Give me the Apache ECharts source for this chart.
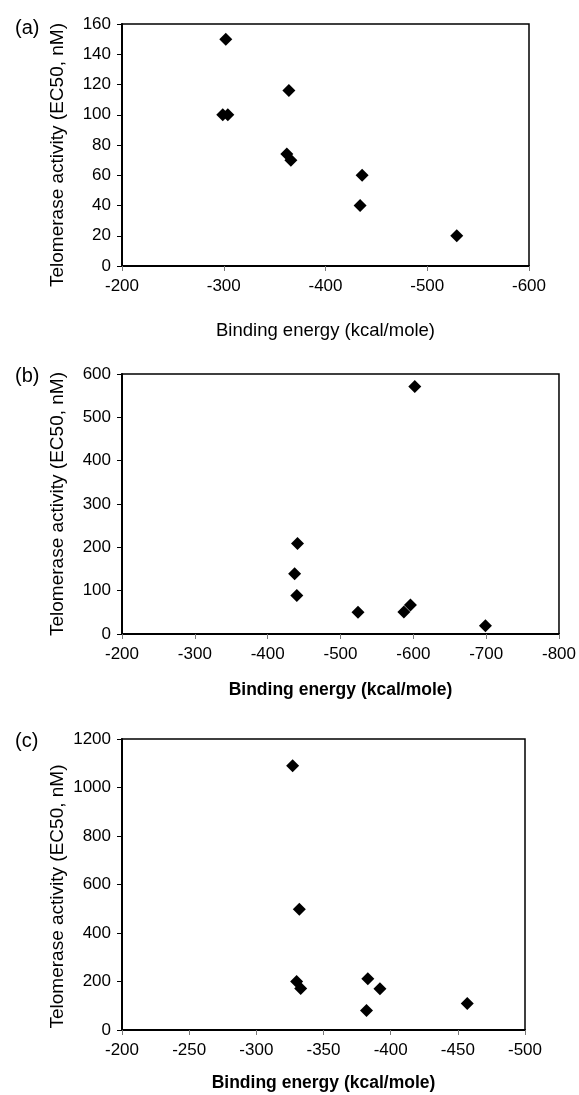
<!DOCTYPE html>
<html>
<head>
<meta charset="utf-8">
<script src="https://cdn.jsdelivr.net/npm/echarts@6/dist/echarts.min.js"></script>
<style>
  body { margin: 0; background: #fff; }
  #chart { width: 579px; height: 1095px; }
</style>
</head>
<body>
<div id="chart"></div>
<script>
// panel (a)
var energyA = [-302, -299, -304, -364, -362, -366, -436, -434, -529];
var activityA = [150, 100, 100, 116, 74, 70, 60, 40, 20];
// panel (b)
var energyB = [-602, -441, -437, -440, -524, -587, -596, -699];
var activityB = [571, 209, 139, 89, 50, 51, 67, 19];
// panel (c)
var energyC = [-327, -332, -330, -333, -383, -392, -382, -457];
var activityC = [1090, 498, 200, 171, 211, 170, 80, 109];

var panelLabels = ['(a)', '(b)', '(c)'];
var xTitle = 'Binding energy (kcal/mole)';
var yTitle = 'Telomerase activity (EC50, nM)';

function pairs(xs, ys) {
    var out = [];
    for (var i = 0; i < xs.length; i++) {
        out.push([xs[i], ys[i]]);
    }
    return out;
}

var font = 'Arial, "Liberation Sans", sans-serif';
// plain numbers, no thousands separator
var plain = function (value) { return String(value); };

function xAxisCfg(idx, min, max, step, bold, gap) {
    return {
        type: 'value',
        gridIndex: idx,
        inverse: true,
        min: min,
        max: max,
        interval: step,
        name: xTitle,
        nameLocation: 'middle',
        nameGap: gap,
        nameMoveOverlap: false,
        nameTextStyle: { color: '#000', fontFamily: font, fontSize: bold ? 17.5 : 18.5, fontWeight: bold ? 'bold' : 'normal' },
        axisLine: { show: true, lineStyle: { color: '#000', width: 2 } },
        axisTick: { show: true, length: 5, lineStyle: { color: '#777', width: 1 } },
        axisLabel: { color: '#000', fontFamily: font, fontSize: 17, margin: 12, formatter: plain },
        splitLine: { show: false }
    };
}

function yAxisCfg(idx, max, step, shift) {
    return {
        type: 'value',
        gridIndex: idx,
        min: 0,
        max: max,
        interval: step,
        name: yTitle,
        nameLocation: 'middle',
        nameGap: 55,
        nameMoveOverlap: false,
        nameTextStyle: { color: '#000', fontFamily: font, fontSize: 19, padding: [0, shift * 2, 0, 0] },
        axisLine: { show: true, lineStyle: { color: '#000', width: 2 } },
        axisTick: { show: true, length: 5, lineStyle: { color: '#000', width: 1 } },
        axisLabel: { color: '#000', fontFamily: font, fontSize: 17, margin: 11, formatter: plain },
        splitLine: { show: false }
    };
}

function seriesCfg(idx, data) {
    return {
        type: 'scatter',
        xAxisIndex: idx,
        yAxisIndex: idx,
        symbol: 'diamond',
        symbolSize: 13,
        itemStyle: { color: '#000', opacity: 1 },
        data: data
    };
}

var myChart = echarts.init(document.getElementById('chart'), null, { renderer: 'canvas' });
var option = {
    backgroundColor: '#fff',
    animation: false,
    title: [
        { text: panelLabels[0], left: 10, top: 13, textStyle: { fontFamily: font, fontSize: 20, fontWeight: 'normal', color: '#000' } },
        { text: panelLabels[1], left: 10, top: 361, textStyle: { fontFamily: font, fontSize: 20, fontWeight: 'normal', color: '#000' } },
        { text: panelLabels[2], left: 10, top: 726, textStyle: { fontFamily: font, fontSize: 20, fontWeight: 'normal', color: '#000' } }
    ],
    grid: [
        { left: 122, top: 24, width: 407, height: 242, show: true, borderColor: '#000', borderWidth: 1.5 },
        { left: 122, top: 374, width: 437, height: 260, show: true, borderColor: '#000', borderWidth: 1.5 },
        { left: 122, top: 739, width: 403, height: 291, show: true, borderColor: '#000', borderWidth: 1.5 }
    ],
    xAxis: [
        xAxisCfg(0, -600, -200, 100, false, 55),
        xAxisCfg(1, -800, -200, 100, true, 47),
        xAxisCfg(2, -500, -200, 50, true, 44)
    ],
    yAxis: [
        yAxisCfg(0, 160, 20, 10),
        yAxisCfg(1, 600, 100, 0),
        yAxisCfg(2, 1200, 200, 12)
    ],
    series: [
        seriesCfg(0, pairs(energyA, activityA)),
        seriesCfg(1, pairs(energyB, activityB)),
        seriesCfg(2, pairs(energyC, activityC))
    ]
};
option && myChart.setOption(option);
</script>
</body>
</html>
